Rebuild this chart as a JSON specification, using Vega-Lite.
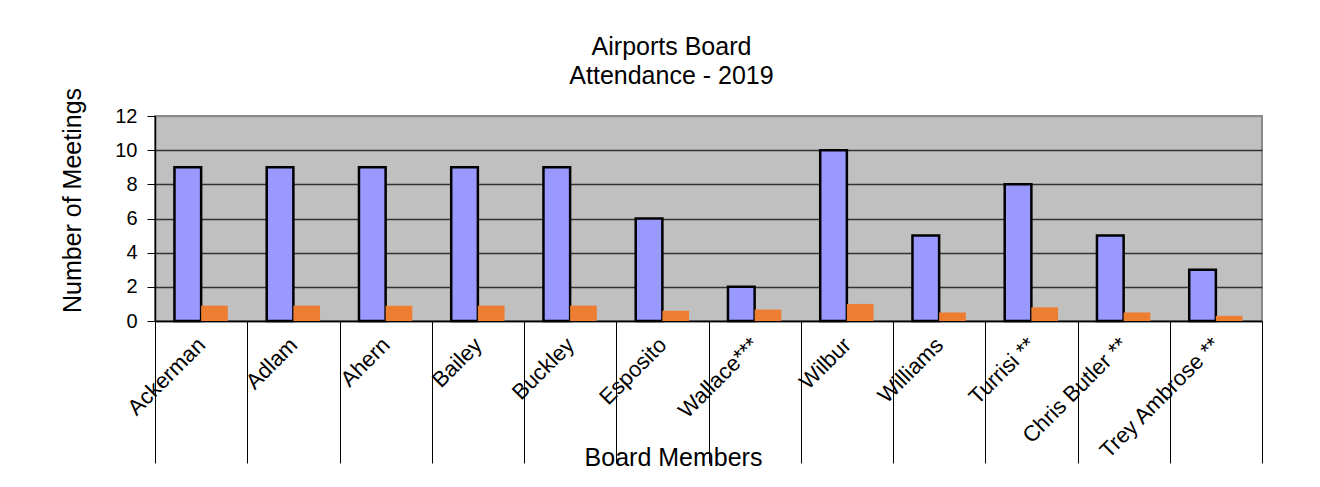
{
  "$schema": "https://vega.github.io/schema/vega-lite/v6.json",
  "width": 1107,
  "height": 205,
  "autosize": {"type": "none"},
  "padding": {"left": 155, "top": 116, "right": 58, "bottom": 166},
  "background": "white",
  "title": {
    "text": ["Airports Board", "Attendance - 2019"],
    "font": "Liberation Sans",
    "fontSize": 25,
    "fontWeight": "normal",
    "color": "black",
    "anchor": "middle",
    "frame": "group",
    "dx": -37,
    "offset": -2,
    "lineHeight": 29
  },
  "data": {
    "values": [
      {"member": "Ackerman", "series": "Meetings", "value": 9},
      {"member": "Ackerman", "series": "Rate", "value": 0.9},
      {"member": "Adlam", "series": "Meetings", "value": 9},
      {"member": "Adlam", "series": "Rate", "value": 0.9},
      {"member": "Ahern", "series": "Meetings", "value": 9},
      {"member": "Ahern", "series": "Rate", "value": 0.9},
      {"member": "Bailey", "series": "Meetings", "value": 9},
      {"member": "Bailey", "series": "Rate", "value": 0.9},
      {"member": "Buckley", "series": "Meetings", "value": 9},
      {"member": "Buckley", "series": "Rate", "value": 0.9},
      {"member": "Esposito", "series": "Meetings", "value": 6},
      {"member": "Esposito", "series": "Rate", "value": 0.6},
      {"member": "Wallace***", "series": "Meetings", "value": 2},
      {"member": "Wallace***", "series": "Rate", "value": 0.67},
      {"member": "Wilbur", "series": "Meetings", "value": 10},
      {"member": "Wilbur", "series": "Rate", "value": 1.0},
      {"member": "Williams", "series": "Meetings", "value": 5},
      {"member": "Williams", "series": "Rate", "value": 0.5},
      {"member": "Turrisi **", "series": "Meetings", "value": 8},
      {"member": "Turrisi **", "series": "Rate", "value": 0.8},
      {"member": "Chris Butler **", "series": "Meetings", "value": 5},
      {"member": "Chris Butler **", "series": "Rate", "value": 0.5},
      {"member": "Trey Ambrose **", "series": "Meetings", "value": 3},
      {"member": "Trey Ambrose **", "series": "Rate", "value": 0.3}
    ]
  },
  "mark": {"type": "bar", "strokeWidth": 2.5},
  "encoding": {
    "x": {
      "field": "member",
      "type": "nominal",
      "sort": null,
      "scale": {"paddingInner": 0, "paddingOuter": 0},
      "axis": {
        "title": "Board Members",
        "titleFont": "Liberation Sans",
        "titleFontSize": 25,
        "titleFontWeight": "normal",
        "titleColor": "black",
        "titleX": 518,
        "titleY": 144,
        "titleAlign": "center",
        "titleBaseline": "alphabetic",
        "labelAngle": -45,
        "labelAlign": "right",
        "labelBaseline": "middle",
        "labelFont": "Liberation Sans",
        "labelFontSize": 22,
        "labelColor": "black",
        "labelPadding": -122,
        "labelOverlap": false,
        "tickBand": "extent",
        "tickSize": 142,
        "tickColor": "black",
        "tickWidth": 1,
        "domainColor": "black",
        "domainWidth": 1.5,
        "grid": false
      }
    },
    "xOffset": {"field": "series", "type": "nominal", "sort": null, "scale": {"paddingInner": 0, "paddingOuter": 0.73}},
    "y": {
      "field": "value",
      "type": "quantitative",
      "scale": {"domain": [0, 12], "nice": false},
      "axis": {
        "title": "Number of Meetings",
        "titleFont": "Liberation Sans",
        "titleFontSize": 25,
        "titleFontWeight": "normal",
        "titleColor": "black",
        "titleX": -75,
        "titleY": 84,
        "titleAlign": "center",
        "titleBaseline": "alphabetic",
        "values": [0, 2, 4, 6, 8, 10, 12],
        "labelFont": "Liberation Sans",
        "labelFontSize": 20,
        "labelColor": "black",
        "labelPadding": 10,
        "tickSize": 8,
        "tickColor": "black",
        "domainColor": "black",
        "domainWidth": 1.5,
        "grid": true,
        "gridColor": {"condition": {"test": "datum.value === 12", "value": "#8a8a8a"}, "value": "#333333"},
        "gridWidth": 1.3
      }
    },
    "color": {
      "field": "series",
      "type": "nominal",
      "scale": {"domain": ["Meetings", "Rate"], "range": ["#9999FF", "#ED7D31"]},
      "legend": null
    },
    "stroke": {
      "field": "series",
      "type": "nominal",
      "scale": {"domain": ["Meetings", "Rate"], "range": ["#000000", "transparent"]},
      "legend": null
    }
  },
  "config": {
    "view": {"fill": "#C0C0C0", "stroke": "#8a8a8a", "strokeWidth": 2}
  }
}
